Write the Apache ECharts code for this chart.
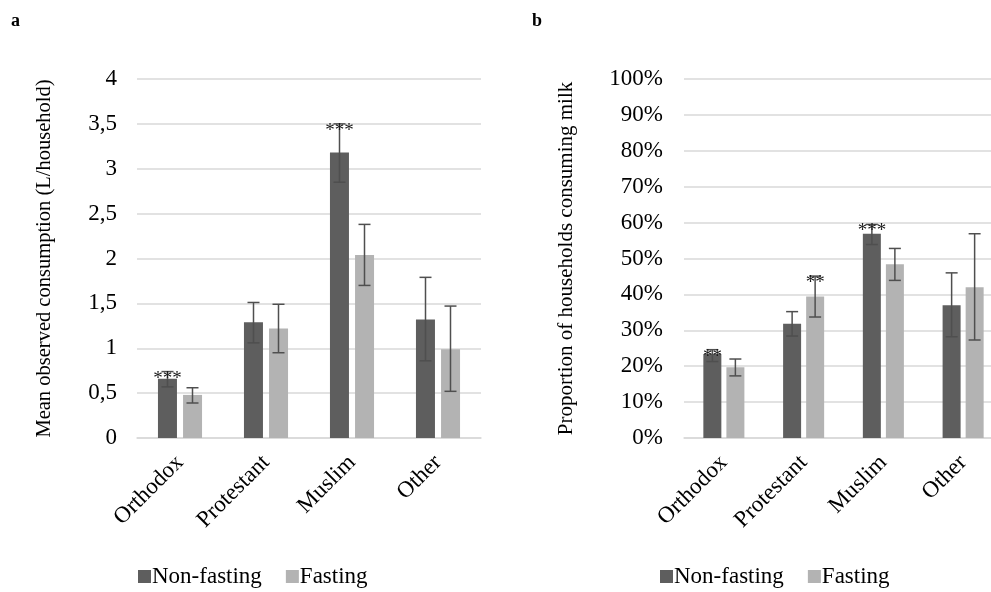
<!DOCTYPE html>
<html>
<head>
<meta charset="utf-8">
<script src="https://cdn.jsdelivr.net/npm/echarts@6/dist/echarts.min.js"></script>
<style>
  html, body { margin: 0; padding: 0; background: #fff; }
  #main { width: 991px; height: 592px; }
</style>
</head>
<body>
<div id="main"></div>
<script>
var categories = ['Orthodox', 'Protestant', 'Muslim', 'Other'];
var seriesNames = ['Non-fasting', 'Fasting'];

// panel a: mean observed consumption (L/household)
var consNonFasting = [0.66, 1.29, 3.18, 1.32];
var consNonFastingLow = [0.57, 1.06, 2.85, 0.86];
var consNonFastingHigh = [0.74, 1.51, 3.50, 1.79];
var consFasting = [0.48, 1.22, 2.04, 0.99];
var consFastingLow = [0.39, 0.95, 1.70, 0.52];
var consFastingHigh = [0.56, 1.49, 2.38, 1.47];
var consSigNonFasting = ['***', '', '***', ''];
var consSigFasting = ['', '', '', ''];
var consTicks = ['0', '0,5', '1', '1,5', '2', '2,5', '3', '3,5', '4'];

// panel b: proportion of households consuming milk (%)
var propNonFasting = [23.4, 31.8, 56.9, 37.0];
var propNonFastingLow = [21.3, 28.4, 53.9, 28.2];
var propNonFastingHigh = [24.6, 35.2, 59.5, 46.0];
var propFasting = [19.7, 39.4, 48.4, 42.0];
var propFastingLow = [17.3, 33.7, 43.9, 27.3];
var propFastingHigh = [22.0, 45.1, 52.8, 56.9];
var propSigNonFasting = ['**', '', '***', ''];
var propSigFasting = ['', '**', '', ''];

var darkGrey = '#5e5e5e';
var lightGrey = '#b3b3b3';
var serif = 'Liberation Serif';

var chart = echarts.init(document.getElementById('main'));

function errRows(low, high) {
    return low.map(function (v, i) { return [i, v, high[i]]; });
}

// whisker + significance stars, shifted to sit on its bar
function errorRender(offset, sig) {
    return function (params, api) {
        var i = api.value(0);
        var lo = api.coord([i, api.value(1)]);
        var hi = api.coord([i, api.value(2)]);
        var x = hi[0] + offset;
        var cap = 6;
        var ls = { stroke: '#4f4f4f', lineWidth: 1.5 };
        return {
            type: 'group',
            children: [
                { type: 'line', shape: { x1: x, y1: hi[1], x2: x, y2: lo[1] }, style: ls },
                { type: 'line', shape: { x1: x - cap, y1: hi[1], x2: x + cap, y2: hi[1] }, style: ls },
                { type: 'line', shape: { x1: x - cap, y1: lo[1], x2: x + cap, y2: lo[1] }, style: ls },
                {
                    type: 'text',
                    style: {
                        text: sig[i], x: x, y: hi[1] + 7,
                        align: 'center', verticalAlign: 'middle',
                        font: '19px ' + serif, fill: '#1a1a1a'
                    }
                }
            ]
        };
    };
}

var axisText = { color: '#000', fontFamily: serif, fontSize: 23 };
var legendText = { fontFamily: serif, fontSize: 23, color: '#000', padding: [0, 0, 0, -4] };

var option = {
    animation: false,
    title: [
        { text: 'a', left: 6, top: 7, textStyle: { fontFamily: serif, fontSize: 18, fontWeight: 'bold', color: '#000' } },
        { text: 'b', left: 527, top: 7, textStyle: { fontFamily: serif, fontSize: 18, fontWeight: 'bold', color: '#000' } }
    ],
    legend: [
        {
            data: seriesNames, left: 138, top: 565, padding: 0,
            icon: 'rect', itemWidth: 13, itemHeight: 13, itemGap: 24,
            textStyle: legendText
        },
        {
            data: seriesNames, left: 660, top: 565, padding: 0,
            icon: 'rect', itemWidth: 13, itemHeight: 13, itemGap: 24,
            textStyle: legendText
        }
    ],
    grid: [
        { left: 137, width: 344, top: 79, height: 359, outerBoundsMode: 'none' },
        { left: 684, width: 319, top: 79, height: 359, outerBoundsMode: 'none' }
    ],
    xAxis: [0, 1].map(function (g) {
        return {
            type: 'category', gridIndex: g, data: categories,
            axisTick: { show: false },
            axisLine: { lineStyle: { color: '#d9d9d9', width: 1.5 } },
            axisLabel: Object.assign({ rotate: 45, margin: 21, interval: 0 }, axisText)
        };
    }),
    yAxis: [
        {
            type: 'value', gridIndex: 0, min: 0, max: 4, interval: 0.5,
            name: 'Mean observed consumption (L/household)',
            nameLocation: 'middle', nameGap: 82, nameRotate: 90,
            nameTextStyle: { fontFamily: serif, fontSize: 20.5, color: '#000' },
            axisLine: { show: false }, axisTick: { show: false },
            axisLabel: Object.assign({ margin: 20, formatter: function (v) { return consTicks[Math.round(v * 2)]; } }, axisText),
            splitLine: { lineStyle: { color: '#d9d9d9', width: 1.5 } }
        },
        {
            type: 'value', gridIndex: 1, min: 0, max: 100, interval: 10,
            name: 'Proportion of households consuming milk',
            nameLocation: 'middle', nameGap: 107, nameRotate: 90,
            nameTextStyle: { fontFamily: serif, fontSize: 21, color: '#000' },
            axisLine: { show: false }, axisTick: { show: false },
            axisLabel: Object.assign({ margin: 21, formatter: '{value}%' }, axisText),
            splitLine: { lineStyle: { color: '#d9d9d9', width: 1.5 } }
        }
    ],
    series: [
        { name: 'Non-fasting', type: 'bar', xAxisIndex: 0, yAxisIndex: 0, data: consNonFasting, barWidth: 19, barGap: '32%', itemStyle: { color: darkGrey } },
        { name: 'Fasting', type: 'bar', xAxisIndex: 0, yAxisIndex: 0, data: consFasting, barWidth: 19, barGap: '32%', itemStyle: { color: lightGrey } },
        { name: 'Non-fasting', type: 'bar', xAxisIndex: 1, yAxisIndex: 1, data: propNonFasting, barWidth: 18, barGap: '28%', itemStyle: { color: darkGrey } },
        { name: 'Fasting', type: 'bar', xAxisIndex: 1, yAxisIndex: 1, data: propFasting, barWidth: 18, barGap: '28%', itemStyle: { color: lightGrey } },
        { type: 'custom', xAxisIndex: 0, yAxisIndex: 0, z: 5, renderItem: errorRender(-12.5, consSigNonFasting), data: errRows(consNonFastingLow, consNonFastingHigh), encode: { x: 0, y: [1, 2] } },
        { type: 'custom', xAxisIndex: 0, yAxisIndex: 0, z: 5, renderItem: errorRender(12.5, consSigFasting), data: errRows(consFastingLow, consFastingHigh), encode: { x: 0, y: [1, 2] } },
        { type: 'custom', xAxisIndex: 1, yAxisIndex: 1, z: 5, renderItem: errorRender(-11.5, propSigNonFasting), data: errRows(propNonFastingLow, propNonFastingHigh), encode: { x: 0, y: [1, 2] } },
        { type: 'custom', xAxisIndex: 1, yAxisIndex: 1, z: 5, renderItem: errorRender(11.5, propSigFasting), data: errRows(propFastingLow, propFastingHigh), encode: { x: 0, y: [1, 2] } }
    ]
};

window.addEventListener('resize', function () {
    chart.resize();
});
chart.setOption(option);
</script>
</body>
</html>
